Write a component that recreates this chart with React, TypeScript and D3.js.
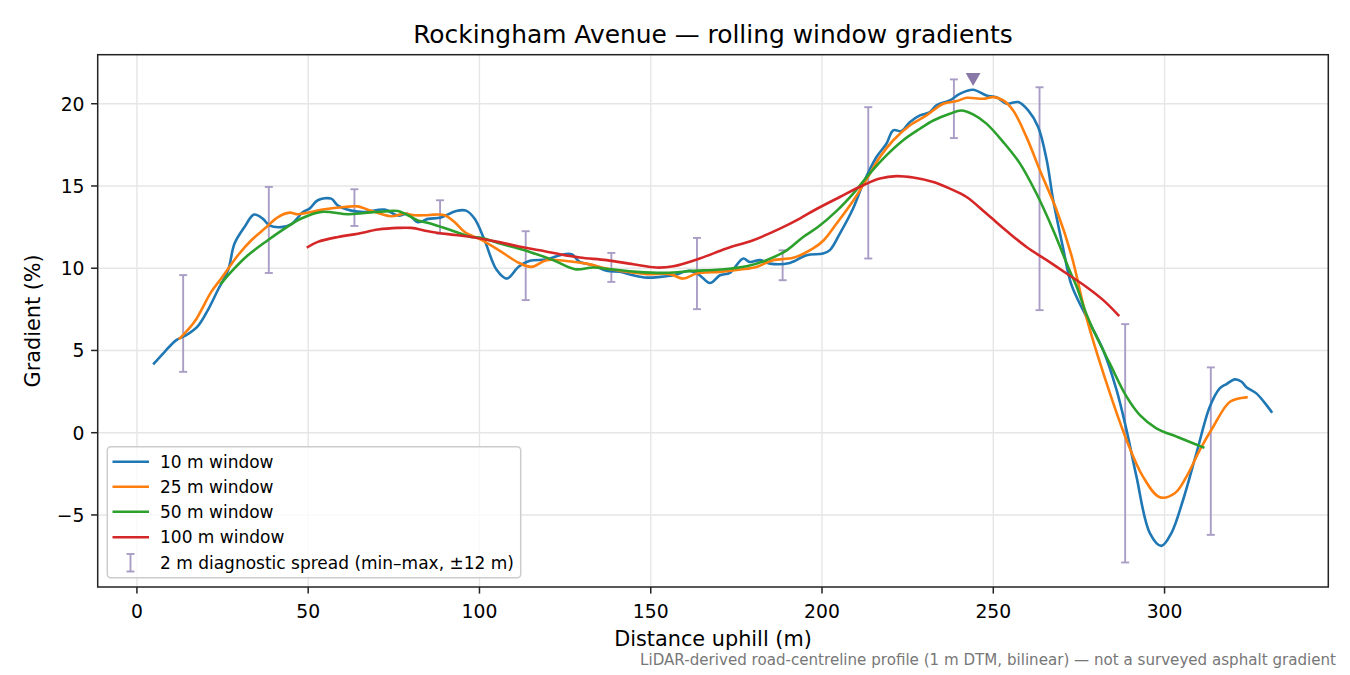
import * as d3 from "d3";

const W = 1350;
const H = 675;

// [distance (m), gradient (%)]
const win10: [number, number][] = [
  [5, 4.21], [8.1, 4.92], [11.5, 5.63], [14.4, 5.93], [17.8, 6.48], [20.7, 7.45], [23.6, 8.66],
  [26.6, 9.88], [28.5, 11.5], [31.4, 12.5], [34.2, 13.26], [36.8, 13.0], [38.7, 12.6], [42.1, 12.5],
  [45, 12.67], [48.5, 13.42], [50.4, 13.62], [52.8, 14.13], [56.7, 14.23], [58.7, 13.8], [62.6, 13.5],
  [66.5, 13.42], [72.3, 13.56], [76.2, 13.2], [79.1, 13.3], [82, 12.8], [85, 13.0], [88.8, 13.08],
  [93.2, 13.48], [96.1, 13.5], [98.6, 13.0], [101.5, 11.7], [105, 9.9], [108, 9.37], [111.5, 10.1],
  [114.7, 10.45], [119.6, 10.53], [123.5, 10.79], [126.9, 10.85], [129.3, 10.38], [133.2, 10.18],
  [137.1, 9.84], [141, 9.78], [144.9, 9.57], [148.8, 9.43], [152.7, 9.47], [156.6, 9.57], [161.4, 9.84],
  [164.3, 9.57], [167.3, 9.1], [170.2, 9.57], [173.1, 9.72], [177, 10.59], [178.9, 10.38], [181.9, 10.49],
  [184.8, 10.28], [190.6, 10.32], [195.5, 10.79], [200.3, 10.89], [202.3, 11.1], [205.2, 12.1],
  [209, 13.6], [212, 15.14], [215.9, 16.76], [218.8, 17.57], [220.8, 18.38], [223.2, 18.34],
  [225.6, 18.88], [228.6, 19.29], [231.5, 19.49], [233.4, 19.9], [237.3, 20.2], [240.2, 20.6],
  [244.1, 20.85], [248, 20.5], [250.9, 20.4], [253.9, 20.0], [257.3, 20.1], [260.2, 19.59],
  [263.1, 18.58], [265.6, 16.56], [267.5, 14.13], [270.4, 11.2], [272.8, 9.0], [277.2, 7.04],
  [282.1, 5.02], [286, 2.59], [288.9, 0.16], [291.8, -2.67], [295.7, -6.1], [299.1, -6.88], [302, -6.1],
  [305.4, -4.09], [309.3, -1.25], [313.2, 1.58], [316.1, 2.7], [318.1, 2.96], [320.5, 3.24],
  [322.5, 3.1], [323.9, 2.76], [326.8, 2.39], [331.2, 1.28],
];

const win25: [number, number][] = [
  [12.5, 5.73], [16.8, 6.74], [21.7, 8.56], [25.1, 9.51], [29.5, 10.79], [33.4, 11.7], [37.3, 12.41],
  [41.2, 13.11], [44.6, 13.38], [47, 13.28], [50.9, 13.42], [54.8, 13.58], [60.6, 13.72], [64.5, 13.76],
  [67.4, 13.56], [70.4, 13.36], [74.2, 13.16], [78.1, 13.32], [81, 13.22], [84, 13.22], [86.9, 13.26],
  [89.8, 13.22], [92.7, 12.81], [95.7, 12.2], [100.3, 11.75], [105.7, 11.09], [111.5, 10.33],
  [115.2, 10.08], [119.6, 10.49], [125.4, 10.44], [131.3, 10.28], [137.1, 9.98], [142.9, 9.78],
  [148.8, 9.64], [155.6, 9.64], [159.5, 9.37], [163.4, 9.68], [170.2, 9.78], [176.2, 9.92],
  [180.9, 10.08], [185.7, 10.49], [191.6, 10.63], [197.4, 11.2], [200.5, 11.7], [204.2, 12.7],
  [209.1, 14.1], [213, 15.4], [216.9, 16.76], [220.8, 17.78], [225.6, 18.68], [230.5, 19.29],
  [235.4, 20.0], [239.3, 20.16], [242.2, 20.36], [247, 20.3], [250, 20.4], [252.9, 20.2],
  [255.8, 19.59], [259.7, 17.97], [263.6, 15.95], [268.5, 13.52], [272.8, 10.8], [277.2, 7.0],
  [283.1, 3.0], [288.9, -0.44], [293.7, -2.67], [298.6, -3.92], [303, -3.68], [306.4, -2.67],
  [310.3, -1.05], [314.2, 0.36], [319.1, 1.88], [323.9, 2.15],
];

const win50: [number, number][] = [
  [24.6, 9.07], [27.5, 9.78], [32.4, 10.79], [38.2, 11.7], [43.1, 12.41], [48, 13.02], [53.8, 13.42],
  [61.6, 13.28], [66.5, 13.36], [72, 13.45], [76.2, 13.48], [79.1, 13.22], [82, 12.91], [85.9, 12.71],
  [91.7, 12.31], [97.6, 11.9], [100.1, 11.86], [105.4, 11.54], [109.8, 11.29], [114.7, 10.99],
  [121.5, 10.49], [127.9, 9.94], [133.2, 10.04], [139, 9.92], [145.9, 9.78], [154.6, 9.72],
  [162.4, 9.84], [170.2, 9.92], [178, 10.12], [183.8, 10.49], [189.7, 11.09], [194.5, 11.9],
  [198.8, 12.5], [204.2, 13.47], [209.1, 14.54], [213.9, 15.75], [218.8, 16.86], [223.7, 17.78],
  [228.6, 18.48], [232.5, 18.98], [237.3, 19.39], [240.7, 19.59], [244.1, 19.35], [248, 18.79],
  [252.9, 17.67], [257.8, 16.36], [262.6, 14.54], [267.5, 12.31], [272.4, 9.8], [274.3, 8.9],
  [277.2, 7.2], [279.2, 6.24], [284, 4.21], [288.9, 2.19], [292.8, 1.07], [297.6, 0.27],
  [303.5, -0.24], [308.3, -0.64], [311.3, -0.89],
];

const win100: [number, number][] = [
  [49.9, 11.29], [52.8, 11.6], [58.7, 11.9], [64.5, 12.1], [70.4, 12.35], [76.2, 12.45], [80.1, 12.45],
  [85, 12.25], [90.8, 12.07], [97.6, 11.9], [105.4, 11.6], [111.2, 11.34], [117.6, 11.09],
  [122.5, 10.89], [129.3, 10.65], [137.1, 10.49], [144.9, 10.24], [151.7, 10.04], [156.6, 10.12],
  [164.3, 10.59], [172.1, 11.2], [179.9, 11.7], [187.7, 12.41], [193.5, 13.02], [198.4, 13.6],
  [205.2, 14.33], [212, 15.04], [216.9, 15.45], [221.8, 15.6], [226.6, 15.51], [232.5, 15.24],
  [237.3, 14.84], [242.2, 14.33], [248, 13.32], [253.9, 12.26], [259.7, 11.29], [265.6, 10.49],
  [271.4, 9.68], [277.2, 8.86], [282.1, 8.06], [286.5, 7.15],
];

// 2 m diagnostic spread (min–max within ±12 m)
const spreadAt = [13.5, 38.5, 63.5, 88.5, 113.5, 138.5, 163.5, 188.5, 213.5, 238.5, 263.5, 288.5, 313.5];
const spreadLo = [3.7, 9.71, 12.57, 12.1, 8.06, 9.17, 7.51, 9.27, 10.59, 17.91, 7.45, -7.89, -6.21];
const spreadHi = [9.58, 14.94, 14.8, 14.13, 12.25, 10.93, 11.84, 11.09, 19.79, 21.48, 21.0, 6.6, 3.97];

const peakMark: [number, number] = [244.1, 21.6];

const xTicks = [0, 50, 100, 150, 200, 250, 300];
const yTicks = [-5, 0, 5, 10, 15, 20];

const series = [
  { label: "10 m window", color: "#1f77b4", pts: win10 },
  { label: "25 m window", color: "#ff7f0e", pts: win25 },
  { label: "50 m window", color: "#2ca02c", pts: win50 },
  { label: "100 m window", color: "#d62728", pts: win100 },
];

const FONT = "'DejaVu Sans', sans-serif";
const SPREAD_COLOR = "#a99dc6";

export default function App() {
  const left = 97.7;
  const right = 1328.3;
  const top = 54.7;
  const bottom = 587;

  const x = d3.scaleLinear().domain([-11.45, 347.8]).range([left, right]);
  const y = d3.scaleLinear().domain([-9.38, 22.98]).range([bottom, top]);

  const line = d3
    .line<[number, number]>()
    .x((d) => x(d[0]))
    .y((d) => y(d[1]))
    .curve(d3.curveCatmullRom.alpha(0.5));

  const fmt = (v: number) => (v < 0 ? "\u2212" + Math.abs(v) : String(v));

  const legX = 107.3;
  const legY = 446.7;
  const rowY = [461.7, 486.7, 511.7, 537.3, 562.7];

  const tri = d3.symbol().type(d3.symbolTriangle).size(95)();

  return (
    <svg
      width={W}
      height={H}
      style={{ position: "absolute", left: 0, top: 0, background: "#fff" }}
      fontFamily={FONT}
    >
      <rect width={W} height={H} fill="#fff" />

      {/* grid */}
      <g stroke="#e6e6e6" strokeWidth={1.4}>
        {xTicks.map((t) => (
          <line key={"gx" + t} x1={x(t)} x2={x(t)} y1={top} y2={bottom} />
        ))}
        {yTicks.map((t) => (
          <line key={"gy" + t} x1={left} x2={right} y1={y(t)} y2={y(t)} />
        ))}
      </g>

      {/* diagnostic spread bars */}
      <g stroke={SPREAD_COLOR} strokeWidth={1.9}>
        {spreadAt.map((d, i) => (
          <g key={"sp" + i}>
            <line x1={x(d)} x2={x(d)} y1={y(spreadLo[i])} y2={y(spreadHi[i])} />
            <line x1={x(d) - 4} x2={x(d) + 4} y1={y(spreadLo[i])} y2={y(spreadLo[i])} />
            <line x1={x(d) - 4} x2={x(d) + 4} y1={y(spreadHi[i])} y2={y(spreadHi[i])} />
          </g>
        ))}
      </g>

      {/* rolling window lines */}
      {series.map((s) => (
        <path
          key={s.label}
          d={line(s.pts) ?? ""}
          fill="none"
          stroke={s.color}
          strokeWidth={2.6}
          strokeLinejoin="round"
          strokeLinecap="square"
        />
      ))}

      {/* peak marker */}
      <path
        d={tri ?? ""}
        transform={`translate(${x(peakMark[0])},${y(peakMark[1])}) rotate(180)`}
        fill="#8878a8"
      />

      {/* frame */}
      <rect x={left} y={top} width={right - left} height={bottom - top} fill="none" stroke="#222" strokeWidth={1.5} />

      {/* x axis */}
      {xTicks.map((t) => (
        <g key={"xt" + t}>
          <line x1={x(t)} x2={x(t)} y1={bottom} y2={bottom + 6.6} stroke="#222" strokeWidth={1.5} />
          <text x={x(t)} y={617.5} textAnchor="middle" fontSize={18.75} fill="#000">
            {fmt(t)}
          </text>
        </g>
      ))}
      {/* y axis */}
      {yTicks.map((t) => (
        <g key={"yt" + t}>
          <line x1={left - 6.6} x2={left} y1={y(t)} y2={y(t)} stroke="#222" strokeWidth={1.5} />
          <text x={84.5} y={y(t) + 6.8} textAnchor="end" fontSize={18.75} fill="#000">
            {fmt(t)}
          </text>
        </g>
      ))}

      <text x={(left + right) / 2} y={42.5} textAnchor="middle" fontSize={24.9} fill="#000">
        Rockingham Avenue — rolling window gradients
      </text>
      <text x={(left + right) / 2} y={646} textAnchor="middle" fontSize={20.8} fill="#000">
        Distance uphill (m)
      </text>
      <text
        transform={`translate(40,${(top + bottom) / 2}) rotate(-90)`}
        textAnchor="middle"
        fontSize={20.8}
        fill="#000"
      >
        Gradient (%)
      </text>
      <text x={1336} y={664.5} textAnchor="end" fontSize={15.1} fill="#777">
        LiDAR-derived road-centreline profile (1 m DTM, bilinear) — not a surveyed asphalt gradient
      </text>

      {/* legend */}
      <g>
        <rect
          x={legX}
          y={legY}
          width={520.7 - legX}
          height={577.7 - legY}
          rx={3.5}
          fill="#fff"
          fillOpacity={0.8}
          stroke="#cccccc"
          strokeWidth={1.5}
        />
        {series.map((s, i) => (
          <g key={"lg" + s.label}>
            <line x1={112.5} x2={149} y1={rowY[i]} y2={rowY[i]} stroke={s.color} strokeWidth={2.6} />
            <text x={160} y={rowY[i] + 6} fontSize={17} fill="#000">
              {s.label}
            </text>
          </g>
        ))}
        <g stroke={SPREAD_COLOR} strokeWidth={1.9}>
          <line x1={130.5} x2={130.5} y1={554} y2={571.5} />
          <line x1={126.5} x2={134.5} y1={554} y2={554} />
          <line x1={126.5} x2={134.5} y1={571.5} y2={571.5} />
        </g>
        <text x={160} y={rowY[4] + 6} fontSize={17} fill="#000">
          2 m diagnostic spread (min–max, ±12 m)
        </text>
      </g>
    </svg>
  );
}
